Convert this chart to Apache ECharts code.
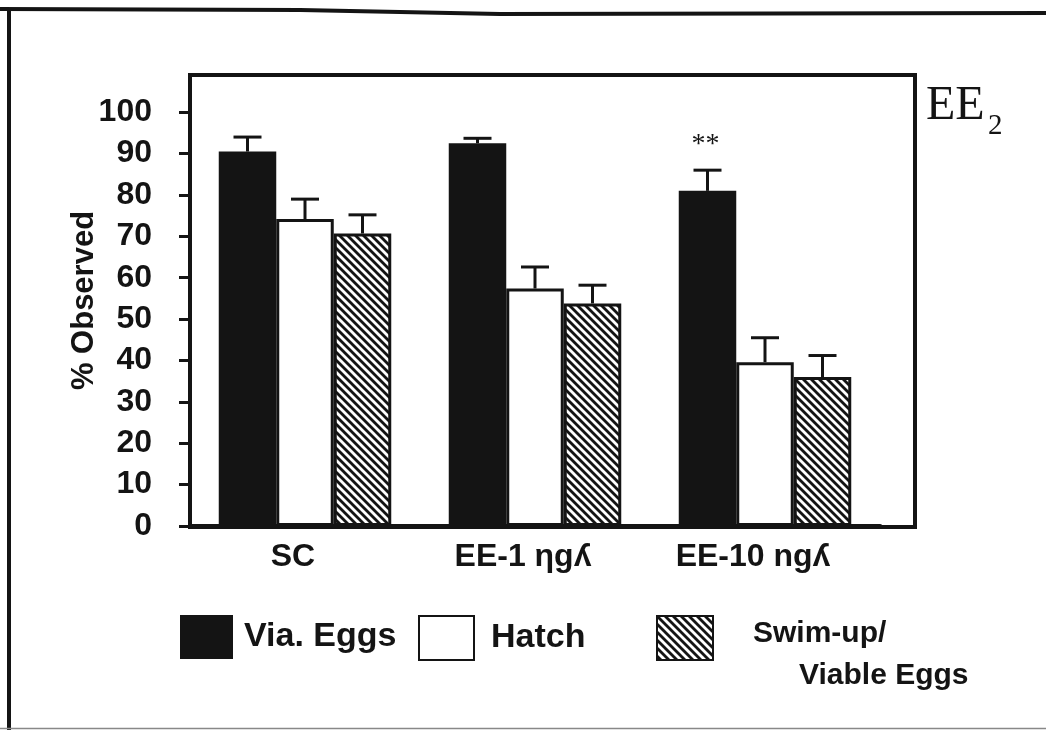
<!DOCTYPE html>
<html><head><meta charset="utf-8">
<script src="https://cdn.jsdelivr.net/npm/echarts@6/dist/echarts.min.js"></script>
<style>html,body{margin:0;padding:0;background:#fff}#c{width:1046px;height:730px}</style>
</head><body><div id="c"></div>
<script>
// ---- data ----
const categories = ['SC', 'EE-1 ηgʎ', 'EE-10 ngʎ'];
const seriesNames = ['Via. Eggs', 'Hatch', 'Swim-up/Viable Eggs'];
const viaEggs = [90.5, 92.5, 81.0];
const viaEggsErr = [3.5, 1.2, 5.0];
const hatch = [74.2, 57.4, 39.6];
const hatchErr = [4.8, 5.2, 5.9];
const swimUp = [70.7, 53.8, 36.0];
const swimUpErr = [4.5, 4.4, 5.2];
const viaEggsSig = ['', '', '**'];
const yTicks = [0, 10, 20, 30, 40, 50, 60, 70, 80, 90, 100];
const yMax = 109;
const panelLabel = 'EE';
const panelSub = '2';

// ---- styling helpers ----
const SANS = '"Liberation Sans", Arial, "DejaVu Sans", sans-serif';
const SERIF = '"Liberation Serif", "Times New Roman", serif';
const INK = '#141414';

const hatchCanvas = document.createElement('canvas');
hatchCanvas.width = 8; hatchCanvas.height = 8;
(function () {
  const g = hatchCanvas.getContext('2d');
  g.fillStyle = '#fff'; g.fillRect(0, 0, 8, 8);
  g.strokeStyle = INK; g.lineWidth = 2.8; g.lineCap = 'square';
  for (let k = -1; k <= 1; k++) {
    g.beginPath(); g.moveTo(k * 8 - 2, -2); g.lineTo(k * 8 + 10, 10); g.stroke();
  }
})();
const hatchFill = { image: hatchCanvas, repeat: 'repeat' };

const groups = [
  { vals: viaEggs, errs: viaEggsErr, sig: viaEggsSig },
  { vals: hatch, errs: hatchErr, sig: ['', '', ''] },
  { vals: swimUp, errs: swimUpErr, sig: ['', '', ''] }
];
const errRows = [];
groups.forEach((g, si) => g.vals.forEach((v, ci) => errRows.push([ci, v, g.errs[ci], si, g.sig[ci]])));

function renderErr(params, api) {
  const row = errRows[params.dataIndex];
  const ci = api.value(0), v = api.value(1), e = api.value(2), si = api.value(3);
  const band = api.size([1, 0])[0];
  const base = api.coord([ci, v]);
  const top = api.coord([ci, v + e]);
  const x = base[0] + (si - 1) * band * 0.25;
  const half = 14;
  const kids = [
    { type: 'line', shape: { x1: x, y1: base[1], x2: x, y2: top[1] }, style: { stroke: INK, lineWidth: 3 } },
    { type: 'line', shape: { x1: x - half, y1: top[1], x2: x + half, y2: top[1] }, style: { stroke: INK, lineWidth: 3 } }
  ];
  if (row[4]) {
    kids.push({ type: 'text', x: x - 2, y: top[1] - 26,
      style: { text: row[4], font: '28px ' + SERIF, fill: INK, align: 'center', verticalAlign: 'middle' } });
  }
  return { type: 'group', children: kids };
}

const chart = echarts.init(document.getElementById('c'), null, { renderer: 'canvas' });
const option = {
  animation: false,
  backgroundColor: '#fff',
  title: [
    { text: panelLabel, left: 926, top: 82, padding: 0,
      textStyle: { fontFamily: SERIF, fontSize: 48, fontWeight: 'normal', color: INK } },
    { text: panelSub, left: 988, top: 112, padding: 0,
      textStyle: { fontFamily: SERIF, fontSize: 29, fontWeight: 'normal', color: INK } }
  ],
  graphic: [
    { type: 'polyline', shape: { points: [[0, 9], [300, 10], [500, 14], [1046, 13]] }, style: { stroke: INK, lineWidth: 4, fill: null } },
    { type: 'line', shape: { x1: 9, y1: 9, x2: 9, y2: 730 }, style: { stroke: INK, lineWidth: 4 } },
    { type: 'line', shape: { x1: 0, y1: 728.5, x2: 1046, y2: 728.5 }, style: { stroke: '#888', lineWidth: 1.5 } }
  ],
  grid: [
    { left: 190, top: 75, width: 725, height: 452, show: true, borderColor: INK, borderWidth: 4, backgroundColor: 'transparent' },
    { left: 190, top: 75, width: 690, height: 451 }
  ],
  legend: [
    { data: [seriesNames[0]], left: 180, top: 615, padding: 0, icon: 'rect', itemWidth: 53, itemHeight: 44,
      selectedMode: false, textStyle: { fontFamily: SANS, fontSize: 34, fontWeight: 'bold', color: INK, padding: [0, 0, 0, 6] } },
    { data: [seriesNames[1]], left: 418, top: 615, padding: 0, icon: 'rect', itemWidth: 55, itemHeight: 44,
      selectedMode: false, textStyle: { fontFamily: SANS, fontSize: 34, fontWeight: 'bold', color: INK, padding: [0, 0, 0, 12] } },
    { data: [seriesNames[2]], left: 656, top: 615, padding: 0, icon: 'rect', itemWidth: 56, itemHeight: 44,
      selectedMode: false,
      formatter: () => '{a|Swim-up/}\n{b|Viable Eggs}',
      textStyle: { fontFamily: SANS, fontWeight: 'bold', color: INK, padding: [34, 0, 0, 35],
        rich: {
          a: { fontFamily: SANS, fontSize: 30, fontWeight: 'bold', color: INK, lineHeight: 42 },
          b: { fontFamily: SANS, fontSize: 30, fontWeight: 'bold', color: INK, lineHeight: 42, padding: [0, 0, 0, 46] }
        } } }
  ],
  xAxis: [
    { gridIndex: 0, type: 'value', show: false, min: 0, max: 1 },
    { gridIndex: 1, type: 'category', data: categories,
      axisLine: { show: true, lineStyle: { color: INK, width: 5 } },
      axisTick: { show: false },
      axisLabel: { color: INK, fontFamily: SANS, fontSize: 32, fontWeight: 'bold', margin: 15, padding: [0, 24, 0, 0] },
      splitLine: { show: false } }
  ],
  yAxis: [
    { gridIndex: 0, type: 'value', show: false, min: 0, max: 1 },
    { gridIndex: 1, type: 'value', min: 0, max: yMax,
      name: '% Observed', nameLocation: 'middle', nameGap: 90, nameMoveOverlap: false,
      nameTextStyle: { color: INK, fontFamily: SANS, fontSize: 31, fontWeight: 'bold' },
      axisLine: { show: false },
      axisTick: { show: true, inside: false, length: 11, lineStyle: { color: INK, width: 3 }, customValues: yTicks },
      axisLabel: { color: INK, fontFamily: SANS, fontSize: 32, fontWeight: 'bold', margin: 38, customValues: yTicks },
      splitLine: { show: false } }
  ],
  series: [
    { name: seriesNames[0], type: 'bar', xAxisIndex: 1, yAxisIndex: 1, data: viaEggs,
      barGap: '0%', barCategoryGap: '25%',
      itemStyle: { color: INK, borderColor: INK, borderWidth: 0 } },
    { name: seriesNames[1], type: 'bar', xAxisIndex: 1, yAxisIndex: 1, data: hatch,
      barGap: '0%', barCategoryGap: '25%',
      itemStyle: { color: '#fff', borderColor: INK, borderWidth: 3 } },
    { name: seriesNames[2], type: 'bar', xAxisIndex: 1, yAxisIndex: 1, data: swimUp,
      barGap: '0%', barCategoryGap: '25%',
      itemStyle: { color: hatchFill, borderColor: INK, borderWidth: 3 } },
    { name: 'err', type: 'custom', xAxisIndex: 1, yAxisIndex: 1, data: errRows.map(r => [r[0], r[1], r[2], r[3]]),
      encode: { x: 0, y: 1 }, renderItem: renderErr, z: 5, silent: true }
  ]
};
chart.setOption(option);
</script>
</body></html>
